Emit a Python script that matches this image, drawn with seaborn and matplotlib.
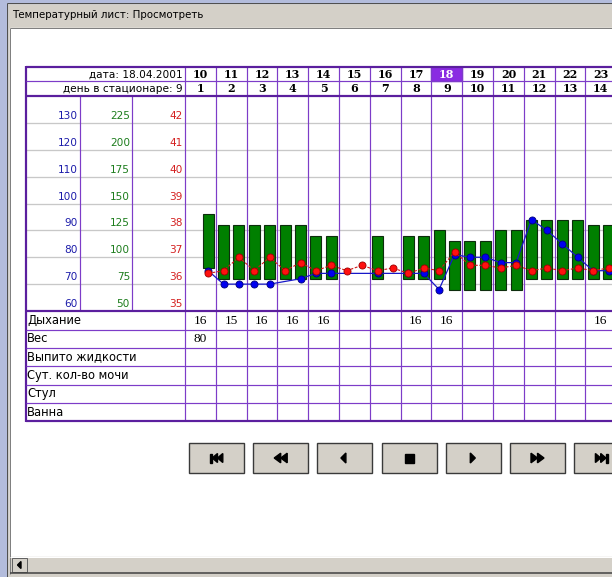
import numpy as np
import pandas as pd
import matplotlib
matplotlib.use("Agg")
import matplotlib.pyplot as plt
from matplotlib.patches import Rectangle, Polygon
import seaborn as sns

nan = np.nan
# ---------------- data ----------------
title = "Температурный лист: Просмотреть"
date_label = "дата: 18.04.2001"
day_label = "день в стационаре: 9"
dates = [10, 11, 12, 13, 14, 15, 16, 17, 18, 19, 20, 21, 22, 23]
hosp_days = [1, 2, 3, 4, 5, 6, 7, 8, 9, 10, 11, 12, 13, 14]
today = 18
half_slots = list(range(28))  # morning / evening of each date
temperature = [nan, 36.4, 36.5, 37.0, 36.5, 37.0, 36.5, 36.8, 36.5, 36.7,
               36.5, 36.7, 36.5, 36.6, 36.4, 36.6, 36.5, 37.2, 36.7, 36.7,
               36.6, 36.7, 36.5, 36.6, 36.5, 36.6, 36.5, 36.6]
pulse = [nan, 75, 70, 70, 70, 70, nan, 72, 74, 74,
         nan, nan, 74, nan, 74, 74, 68, 81, 80, 80,
         78, 78, 94, 90, 85, 80, 75, 75]
bp_sys = [nan, 140, 130, 130, 130, 130, 130, 130, 120, 120,
          nan, nan, 120, nan, 120, 120, 125, 115, 115, 115,
          125, 125, 135, 135, 135, 135, 130, 130]
bp_dia = [nan, 90, 80, 80, 80, 80, 80, 80, 80, 80,
          nan, nan, 80, nan, 80, 80, 80, 70, 70, 70,
          70, 70, 80, 80, 80, 80, 80, 80]
pulse_ticks = [130, 120, 110, 100, 90, 80, 70, 60]
bp_ticks = [225, 200, 175, 150, 125, 100, 75, 50]
temp_ticks = [42, 41, 40, 39, 38, 37, 36, 35]
row_labels = ["Дыхание", "Вес", "Выпито жидкости", "Сут. кол-во мочи", "Стул", "Ванна"]
breathing = ["16", "15", "16", "16", "16", "", "", "16", "16", "", "", "", "", "16"]
weight = ["80", "", "", "", "", "", "", "", "", "", "", "", "", ""]
buttons = ["first", "prev_page", "prev", "stop", "next", "next_page", "last"]

# ---------------- layout ----------------
W, H = 612, 577
PX = 0.72
fig = plt.figure(figsize=(W / 100, H / 100), dpi=100)
cv = fig.add_axes([0, 0, 1, 1])
cv.set_xlim(0, W)
cv.set_ylim(H, 0)
cv.axis("off")
cv.set_zorder(0)

GRAYBG = "#d4d0c8"
PUR = "#7d3cc8"
PUR_D = "#5b1f9e"
SANS = ["DejaVu Sans"]


def hl(y, x0, x1, c, w):
    cv.plot([x0, x1], [y, y], color=c, lw=w * PX, solid_capstyle="butt", zorder=2)


def vl(x, y0, y1, c, w):
    cv.plot([x, x], [y0, y1], color=c, lw=w * PX, solid_capstyle="butt", zorder=2)


# window chrome
cv.add_patch(Rectangle((0, 0), W, H, color=GRAYBG, zorder=0))
cv.add_patch(Rectangle((0, 0), 6.5, H, color="#b3bcdc", zorder=0.5))
cv.add_patch(Rectangle((0, 0), W, 2.5, color="#b3bcdc", zorder=0.5))
vl(7, 2.5, H, "#505050", 1)
hl(3, 7, W, "#505050", 1)
cv.text(12, 15, title, fontsize=7.4, family=SANS, va="center", ha="left", color="#000000", zorder=3)
cv.add_patch(Rectangle((10, 27.5), W - 10, 530, color="white", zorder=0.6))
hl(27.5, 9.5, W, "#808080", 1)
vl(9.5, 27.5, 574, "#808080", 1)
# scrollbar
cv.add_patch(Rectangle((10, 557), W - 10, 15, color=GRAYBG, zorder=0.7))
hl(557, 10, W, "#ffffff", 1)
cv.add_patch(Rectangle((12, 558), 15, 14, facecolor=GRAYBG, edgecolor="#606060", lw=0.7, zorder=0.8))
cv.add_patch(Polygon([(17.5, 565), (21, 561.5), (21, 568.5)], color="black", zorder=1))
hl(573, 9.5, W, "#404040", 1.5)

# ---------------- table ----------------
X0, COLW = 185, 30.8
HALF = COLW / 2
Y_TOP, Y_BOT = 96, 311
T0, T1 = 35, 43
LEFT = 25.5


def ty(t):
    return Y_BOT - (t - T0) * (Y_BOT - Y_TOP) / (T1 - T0)


# highlighted current date cell
ci = dates.index(today)
cv.add_patch(Rectangle((X0 + COLW * ci, 67), COLW, 14, color="#8a2be2", zorder=1))

# gray scale lines
for t in temp_ticks[:-1]:
    hl(ty(t), LEFT, W, "#c8c8c8", 1.3)

# vertical lines
for i in range(len(dates) + 1):
    vl(X0 + COLW * i, 67, 421, PUR, 1.2)
vl(80, Y_TOP, Y_BOT, PUR, 1.2)
vl(132, Y_TOP, Y_BOT, PUR, 1.2)
vl(LEFT, 66, 422, PUR_D, 2.2)

# horizontal lines
for y in [81, 330, 348, 366, 385, 403]:
    hl(y, LEFT, W, PUR, 1.2)
for y in [67, 96, 311, 421]:
    hl(y, LEFT, W, PUR_D, 2.2)

# header text
cv.text(183, 74.5, date_label, fontsize=7.6, family=SANS, ha="right", va="center", zorder=3)
cv.text(183, 88.5, day_label, fontsize=7.6, family=SANS, ha="right", va="center", zorder=3)
for i, (d, n) in enumerate(zip(dates, hosp_days)):
    cx = X0 + COLW * (i + 0.5)
    cv.text(cx, 74.5, str(d), fontsize=8, family=["DejaVu Serif"], weight="bold", ha="center", va="center",
            color="white" if d == today else "black", zorder=3)
    cv.text(cx, 88.5, str(n), fontsize=8, family=["DejaVu Serif"], weight="bold", ha="center", va="center",
            color="black", zorder=3)

# scale labels
for p, b, t in zip(pulse_ticks, bp_ticks, temp_ticks):
    y = ty(t) - 7
    cv.text(78, y, str(p), fontsize=7.6, family=SANS, ha="right", va="center", color="#1c1caa", zorder=3)
    cv.text(130, y, str(b), fontsize=7.6, family=SANS, ha="right", va="center", color="#1d7d1d", zorder=3)
    cv.text(183, y, str(t), fontsize=7.6, family=SANS, ha="right", va="center", color="#d42020", zorder=3)

# bottom rows
row_edges = [311, 330, 348, 366, 385, 403, 421]
for r, lab in enumerate(row_labels):
    yc = (row_edges[r] + row_edges[r + 1]) / 2
    cv.text(27, yc, lab, fontsize=8.3, family=SANS, ha="left", va="center", zorder=3)
for r, vals in [(0, breathing), (1, weight)]:
    yc = (row_edges[r] + row_edges[r + 1]) / 2
    for i, v in enumerate(vals):
        if v:
            cv.text(X0 + COLW * (i + 0.5), yc, v, fontsize=9.6, family=["Liberation Serif"],
                    ha="center", va="center", zorder=3)

# navigation buttons
BY, BH, BW = 443, 30, 55
for j, kind in enumerate(buttons):
    bx = 189 + 64.2 * j
    cv.add_patch(Rectangle((bx, BY), BW, BH, facecolor=GRAYBG, edgecolor="#3a3a3a", lw=1.0, zorder=1))
    cx, cy = bx + BW / 2, BY + BH / 2
    polys = []
    if kind == "first":
        polys = [[(cx - 6.5, cy - 4.5), (cx - 4.3, cy - 4.5), (cx - 4.3, cy + 4.5), (cx - 6.5, cy + 4.5)],
                 [(cx - 4.3, cy), (cx + 1, cy - 4.5), (cx + 1, cy + 4.5)],
                 [(cx + 1, cy), (cx + 6.3, cy - 4.5), (cx + 6.3, cy + 4.5)]]
    elif kind == "prev_page":
        polys = [[(cx - 6.5, cy), (cx, cy - 4.8), (cx, cy + 4.8)],
                 [(cx, cy), (cx + 6.5, cy - 4.8), (cx + 6.5, cy + 4.8)]]
    elif kind == "prev":
        polys = [[(cx - 4, cy), (cx + 1, cy - 5), (cx + 1, cy + 5)]]
    elif kind == "stop":
        polys = [[(cx - 4.5, cy - 4.5), (cx + 4.5, cy - 4.5), (cx + 4.5, cy + 4.5), (cx - 4.5, cy + 4.5)]]
    elif kind == "next":
        polys = [[(cx + 2, cy), (cx - 3, cy - 5), (cx - 3, cy + 5)]]
    elif kind == "next_page":
        polys = [[(cx + 6.5, cy), (cx, cy - 4.8), (cx, cy + 4.8)],
                 [(cx, cy), (cx - 6.5, cy - 4.8), (cx - 6.5, cy + 4.8)]]
    elif kind == "last":
        polys = [[(cx + 6.5, cy - 4.5), (cx + 4.3, cy - 4.5), (cx + 4.3, cy + 4.5), (cx + 6.5, cy + 4.5)],
                 [(cx + 4.3, cy), (cx - 1, cy - 4.5), (cx - 1, cy + 4.5)],
                 [(cx - 1, cy), (cx - 6.3, cy - 4.5), (cx - 6.3, cy + 4.5)]]
    for pg in polys:
        cv.add_patch(Polygon(pg, color="black", zorder=2))

# ---------------- chart (seaborn) ----------------
rect = [X0 / W, 1 - Y_BOT / H, (W - X0) / W, (Y_BOT - Y_TOP) / H]
xlim = (-0.5, -0.5 + (W - X0) / HALF)


def mk(z):
    a = fig.add_axes(rect, label=f"layer{z}")
    a.set_zorder(z)
    a.patch.set_visible(False)
    return a


ax_bp = mk(2)
ax_pulse = mk(3)
ax_temp = mk(4)

bp = pd.DataFrame({"slot": half_slots, "sys": bp_sys, "dia": bp_dia}).dropna().sort_values("slot")
bp["span"] = bp["sys"] - bp["dia"]
sns.barplot(data=bp, x="slot", y="span", bottom=bp["dia"].to_numpy(), native_scale=True,
            width=0.72, color="#007f00", saturation=1, edgecolor="#0d2d0d", linewidth=0.8,
            errorbar=None, ax=ax_bp)

pu = pd.DataFrame({"slot": half_slots, "pulse": pulse}).dropna()
sns.lineplot(data=pu, x="slot", y="pulse", color="#1818c8", lw=0.9, ax=ax_pulse)
sns.scatterplot(data=pu, x="slot", y="pulse", color="#0000f0", edgecolor="#00007a",
                s=26, linewidth=0.6, ax=ax_pulse, zorder=3)

te = pd.DataFrame({"slot": half_slots, "temp": temperature}).dropna()
sns.lineplot(data=te, x="slot", y="temp", color="#d01818", lw=0.8, linestyle=(0, (2.5, 1.5)), ax=ax_temp)
sns.scatterplot(data=te, x="slot", y="temp", color="#ff1010", edgecolor="#9a0000",
                s=26, linewidth=0.6, ax=ax_temp, zorder=3)

for a, lim in [(ax_bp, (50, 250)), (ax_pulse, (60, 140)), (ax_temp, (T0, T1))]:
    a.set_xlim(*xlim)
    a.set_ylim(*lim)
    a.set_axis_off()

fig.savefig("out.png", dpi=100)
